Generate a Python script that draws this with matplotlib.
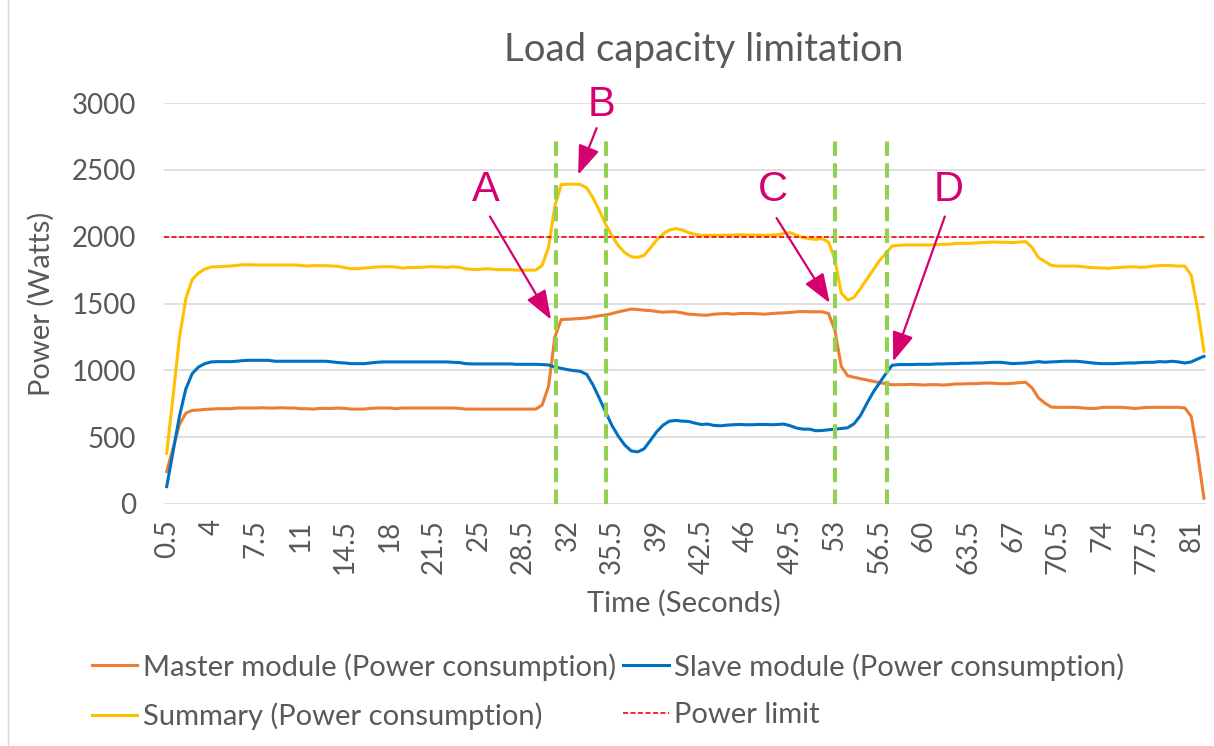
import numpy as np
import matplotlib
matplotlib.use("Agg")
import matplotlib.pyplot as plt
from matplotlib.lines import Line2D

# ---------------- data ----------------
time = np.arange(0.5, 82.01, 0.5)  # category axis, seconds

master = [243, 418, 593, 680, 700, 703, 708, 710, 713, 713, 713, 718, 718, 718, 718, 720, 718,
          718, 720, 718, 718, 713, 713, 710, 715, 715, 715, 718, 715, 710, 710, 710, 715, 718, 718,
          718, 713, 718, 718, 718, 718, 718, 718, 718, 718, 718, 715, 710, 710,
          710, 710, 710, 710, 710, 710, 710, 710, 710, 710, 740, 880, 1250, 1380, 1382, 1385, 1388,
          1392, 1400, 1408, 1414, 1425, 1438, 1448, 1458, 1455, 1450, 1447, 1440, 1435, 1438, 1438, 1430,
          1420, 1418, 1413, 1413, 1420, 1423, 1425, 1420, 1425, 1425, 1425, 1423, 1420, 1425, 1428,
          1430, 1433, 1438, 1440, 1438, 1438, 1438, 1425, 1300, 1030, 960, 948, 938, 928, 918, 908, 900,
          892, 893, 893, 895, 893, 890, 893, 893, 890, 893, 898, 898, 900, 900, 903, 905, 903, 900, 900,
          903, 908, 910, 868, 793, 755, 725, 723, 723, 723, 723, 718, 715, 715,
          723, 723, 723, 723, 720, 715, 718, 723, 723, 723, 723, 723, 723, 718, 655, 378, 43]

slave = [130, 393, 655, 860, 975, 1025, 1050, 1063, 1065, 1065, 1065, 1068, 1073, 1075, 1075, 1075, 1075,
         1068, 1068, 1068, 1068, 1068, 1068, 1068, 1068, 1068, 1063, 1058, 1055, 1050, 1050, 1050, 1055,
         1060, 1063, 1063, 1063, 1063, 1063, 1063, 1063, 1063, 1063, 1063, 1063, 1060, 1058, 1050, 1048,
         1048, 1048, 1048, 1048, 1048, 1048, 1045, 1045, 1045, 1045, 1043, 1040, 1025, 1015, 1005, 998,
         992, 970, 890, 790, 685, 585, 505, 440, 397, 390, 412, 475, 540, 590, 620, 625, 620,
         618, 605, 595, 598, 588, 585, 590, 593, 595, 593, 593, 595, 595, 593, 595, 598, 585, 568, 560,
         560, 548, 550, 555, 560, 565, 570, 600, 660, 750, 835, 905, 975,
         1038, 1043, 1043, 1043, 1045, 1045, 1045, 1048, 1048, 1050, 1050, 1053, 1053, 1055, 1055, 1058,
         1060, 1060, 1055, 1050, 1053, 1055, 1060, 1065, 1060, 1063, 1065, 1068, 1068, 1068, 1063, 1058, 1053,
         1050, 1050, 1050, 1053, 1055, 1055, 1058, 1060, 1060, 1065, 1063, 1068, 1063, 1055, 1063, 1085, 1105]

summary = [380, 805, 1243, 1535, 1678, 1728, 1758, 1773, 1775, 1778, 1780, 1785, 1790, 1790, 1788, 1788, 1788,
           1788, 1788, 1788, 1788, 1785, 1780, 1783, 1783, 1783, 1780, 1778, 1768, 1760, 1760, 1765, 1768,
           1773, 1775, 1775, 1773, 1765, 1770, 1770, 1770, 1775, 1775, 1773, 1770, 1775, 1770, 1760, 1755,
           1755, 1760, 1758, 1753, 1753, 1753, 1750, 1750, 1750, 1750, 1785, 1920, 2230, 2390, 2392, 2393,
           2390, 2365, 2290, 2195, 2090, 2005, 1930, 1880, 1850, 1845, 1860, 1915, 1975, 2020, 2050, 2060, 2050,
           2030, 2018, 2010, 2010, 2010, 2010, 2012, 2012, 2015, 2012, 2012, 2012, 2010, 2012, 2015,
           2025, 2030, 2010, 1993, 1985, 1980, 1985, 1960, 1830, 1580, 1525, 1545, 1610, 1680, 1750, 1820, 1875,
           1930, 1935, 1938, 1938, 1938, 1938, 1938, 1940, 1943, 1943, 1950, 1950, 1950, 1953, 1955, 1958,
           1960, 1958, 1958, 1955, 1960, 1963, 1918, 1843, 1815, 1785, 1780, 1780, 1780, 1780, 1775, 1770, 1768,
           1765, 1763, 1768, 1770, 1773, 1775, 1770, 1773, 1780, 1783, 1785, 1783, 1780, 1780, 1710, 1460, 1143]

power_limit = 2000

x_tick_labels = ['0.5', '4', '7.5', '11', '14.5', '18', '21.5', '25', '28.5', '32', '35.5', '39',
                 '42.5', '46', '49.5', '53', '56.5', '60', '63.5', '67', '70.5', '74', '77.5', '81']
y_ticks = [0, 500, 1000, 1500, 2000, 2500, 3000]

# event markers (seconds) and annotation letters
marker_times = [31.1, 35.0, 53.0, 57.1]
letters = ['A', 'B', 'C', 'D']
letter_pos = [(25.6, 2351), (34.67, 2987), (48.15, 2351), (61.9, 2351)]
arrow_start = [(25.9, 2151), (34.28, 2812), (48.42, 2139), (61.64, 2151)]
arrow_tip = [(30.7, 1379), (32.83, 2463), (52.6, 1503), (57.58, 1067)]

# ---------------- style ----------------
plt.rcParams['font.family'] = ['Lato', 'DejaVu Sans']
TXT = '#595959'
C_MASTER = '#ED7D31'
C_SLAVE = '#0070C0'
C_SUM = '#FFC000'
C_LIMIT = '#FF0000'
C_MARK = '#92D050'
C_ANN = '#D6006E'

W, H = 1214, 746
fig = plt.figure(figsize=(W / 100, H / 100), dpi=100)
ax = fig.add_axes([164 / W, 1 - 504 / H, (1206 - 164) / W, (504 - 103) / H])

lw = 2.2
l1, = ax.plot(time, master, color=C_MASTER, lw=lw, solid_joinstyle='round', zorder=3)
l2, = ax.plot(time, slave, color=C_SLAVE, lw=lw, solid_joinstyle='round', zorder=3)
l3, = ax.plot(time, summary, color=C_SUM, lw=lw, solid_joinstyle='round', zorder=3)
l4 = ax.axhline(power_limit, color=C_LIMIT, lw=1.2, ls=(0, (3, 1.5)), zorder=4)

for t in marker_times:
    ax.vlines(t, 0, 2740, colors=C_MARK, lw=2.9, linestyles=[(0, (3.6, 1.8))], zorder=5)

for s, p, a, b in zip(letters, letter_pos, arrow_start, arrow_tip):
    ax.text(p[0], p[1], s, color=C_ANN, fontsize=30, ha='center', va='center',
            family=['Liberation Sans', 'DejaVu Sans'], zorder=6)
    ax.annotate('', xy=b, xytext=a,
                arrowprops=dict(arrowstyle='-|>,head_length=0.9,head_width=0.33',
                                color=C_ANN, lw=1.6, mutation_scale=20,
                                shrinkA=0, shrinkB=0), zorder=6)

ax.set_xlim(0.288, 82.16)
ax.set_ylim(0, 3000)
ax.set_yticks(y_ticks)
ax.set_yticklabels([str(v) for v in y_ticks])
ax.set_xticks([float(s) for s in x_tick_labels])
ax.set_xticklabels(x_tick_labels, rotation=90)
ax.tick_params(axis='both', length=0, colors=TXT, labelsize=20)
ax.tick_params(axis='y', pad=20)
ax.tick_params(axis='x', pad=11)
ax.grid(axis='y', color='#D9D9D9', lw=1.2, zorder=0)
ax.set_axisbelow(True)
for sp in ax.spines.values():
    sp.set_visible(False)

ax.set_ylabel('Power (Watts)', fontsize=21, color=TXT)
ax.yaxis.set_label_coords((55 - 164) / 1042, 0.5)
ax.set_xlabel('Time (Seconds)', fontsize=21, color=TXT, va='top')
ax.xaxis.set_label_coords((684 - 164) / 1042, (504 - 590) / 401)

fig.text(704 / W, 1 - 50 / H, 'Load capacity limitation', fontsize=27.6, color=TXT,
         ha='center', va='center')

leg = fig.legend([l1, l3, l2, l4],
                 ['Master module (Power consumption)', 'Summary (Power consumption)',
                  'Slave module (Power consumption)', 'Power limit'],
                 ncol=2, loc='upper left', bbox_to_anchor=(92 / W, 1 - 653 / H),
                 frameon=False, fontsize=21, handlelength=1.55, handletextpad=0.2,
                 columnspacing=0.25, labelspacing=0.75, borderpad=0, borderaxespad=0)
for t in leg.get_texts():
    t.set_color(TXT)

fig.add_artist(Line2D([8 / W, 8 / W], [0, 1], color='#D9D9D9', lw=1.0))

fig.savefig('out.png', dpi=100)
